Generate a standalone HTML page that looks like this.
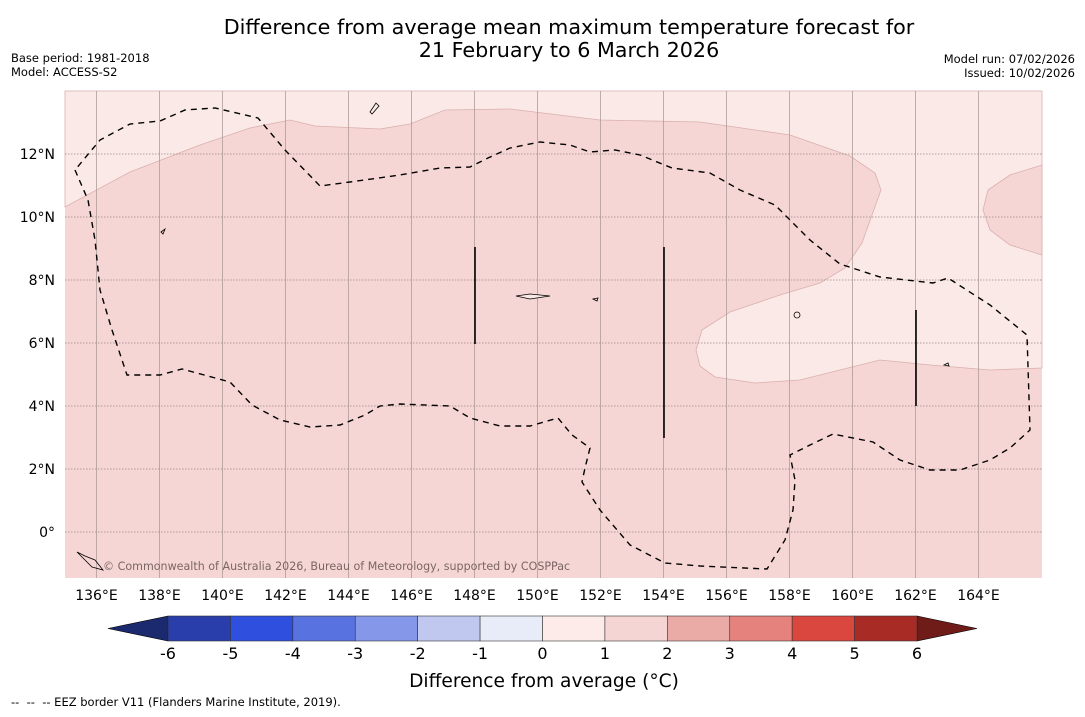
<!DOCTYPE html>
<html><head><meta charset="utf-8"><style>
body{margin:0;background:#fff;width:1085px;height:713px;overflow:hidden;font-family:"DejaVu Sans","Liberation Sans",sans-serif}
</style></head><body>
<svg id="s" width="1085" height="713" xmlns="http://www.w3.org/2000/svg">
<text x="569" y="34" font-size="20.7" text-anchor="middle">Difference from average mean maximum temperature forecast for</text>
<text x="569" y="57" font-size="20.7" text-anchor="middle">21 February to 6 March 2026</text>
<text x="11" y="62" font-size="11.5">Base period: 1981-2018</text>
<text x="11" y="76" font-size="11.5">Model: ACCESS-S2</text>
<text x="1075" y="63" font-size="11.5" text-anchor="end">Model run: 07/02/2026</text>
<text x="1075" y="77" font-size="11.5" text-anchor="end">Issued: 10/02/2026</text>
<g id="map">
<rect x="65" y="91" width="977" height="487" fill="#f5d6d4"/>
<path d="M65,91 L1042,91 L1042,368 L990,370 L930,365 L880,360 L840,370 L800,380 L755,383 L715,377 L700,366 L696,350 L702,330 L730,312 L780,295 L820,283 L845,268 L862,243 L872,215 L881,190 L875,173 L850,156 L790,135 L700,122 L600,120 L510,109 L445,110 L410,124 L380,129 L315,126 L290,120 L250,128 L200,145 L130,172 L65,207 Z" fill="#fbe9e7" stroke="#d9b0ad" stroke-width="0.8"/>
<path d="M1042,165 L1010,175 L988,190 L983,210 L990,230 L1010,245 L1042,255 Z" fill="#f5d6d4" stroke="#d9b0ad" stroke-width="0.8"/>
<g id="grid"></g>
<path d="M75,170 L88,200 L95,240 L100,290 L112,330 L127,375 L160,375 L182,369 L230,382 L252,405 L280,420 L310,427 L340,425 L365,415 L380,406 L400,404 L450,406 L470,418 L500,426 L530,426 L558,418 L572,435 L590,448 L585,468 L582,482 L600,510 L630,545 L665,563 L700,566 L767,569 L785,540 L793,510 L795,480 L790,455 L810,445 L833,434 L873,442 L900,460 L930,470 L960,470 L990,460 L1010,448 L1030,430 L1027,335 L990,305 L948,278 L933,283 L880,277 L840,264 L810,240 L775,205 L740,190 L710,173 L672,168 L640,155 L615,150 L590,152 L570,145 L540,142 L510,148 L488,158 L470,167 L440,168 L400,175 L350,182 L320,186 L285,150 L258,118 L215,108 L185,110 L160,121 L130,124 L100,140 Z" fill="none" stroke="#000" stroke-width="1.4" stroke-dasharray="6,5"/>
<line x1="475" y1="247" x2="475" y2="344" stroke="#000" stroke-width="1.6"/>
<line x1="664" y1="247" x2="664" y2="438" stroke="#000" stroke-width="1.6"/>
<line x1="916" y1="310" x2="916" y2="406" stroke="#000" stroke-width="1.6"/>
<g fill="none" stroke="#000" stroke-width="0.8">
<path d="M370,112 L376,103 L379,106 L372,114 Z"/>
<path d="M516,296 L530,294 L550,296 L530,299 Z" fill="#fbe9e7"/>
<ellipse cx="797" cy="315" rx="3" ry="3"/>
<path d="M161,232 L165,229 L163,234 Z"/>
<path d="M77,552 L85,556 L95,560 L103,570 L92,567 Z"/>
<path d="M593,299 L598,298 L597,301 Z"/>
<path d="M944,365 L948,363 L949,366 Z"/>
</g>
<text x="103" y="570" font-size="11.1" fill="#7a6664">© Commonwealth of Australia 2026, Bureau of Meteorology, supported by COSPPac</text>
</g>
<g id="ticks"></g>
<g id="cbar"></g>
<text x="544" y="687" font-size="18.6" text-anchor="middle">Difference from average (°C)</text>
<text x="11" y="706" font-size="11.5" xml:space="preserve">--  --  -- EEZ border V11 (Flanders Marine Institute, 2019).</text>
</svg>
<script>
const lonTicks=[136,138,140,142,144,146,148,150,152,154,156,158,160,162,164];
const latTicks=[0,2,4,6,8,10,12];
const levels=[-6,-5,-4,-3,-2,-1,0,1,2,3,4,5,6];
const levelColors=["#2a3eab","#2f4fdf","#5873e0","#8597e8","#c0c8f0","#e8ecf8","#fcebe9","#f5d5d3","#eaaba6","#e5827d","#d9473f","#a92b26"];
const NS="http://www.w3.org/2000/svg";
function X(lon){return 65+(lon-135)*31.5;}
function Y(lat){return 91+(14-lat)*31.5;}
function mk(t,a,p){const e=document.createElementNS(NS,t);for(const k in a)e.setAttribute(k,a[k]);p.appendChild(e);return e;}
const grid=document.getElementById('grid'),ticks=document.getElementById('ticks'),cb=document.getElementById('cbar');
lonTicks.forEach(l=>{
 const g=mk('line',{x1:X(l),x2:X(l),y1:91,y2:578,stroke:'#b09c9a','stroke-width':0.8},grid);
 
 
 const t=mk('text',{x:X(l),y:600,'font-size':14,'text-anchor':'middle'},ticks);t.textContent=l+'°E';
 
 
});
latTicks.forEach(l=>{
 const g=mk('line',{x1:65,x2:1042,y1:Y(l),y2:Y(l),stroke:'#9a8886','stroke-width':0.8,'stroke-dasharray':'1.5,1.5'},grid);
 
 
 const t=mk('text',{x:55,y:Y(l)+5,'font-size':14,'text-anchor':'end'},ticks);t.textContent=l===0?'0°':l+'°N';
 
 
});
const cx0=168,cx1=917,cy=616,ch=25;
function CX(v){return cx0+(v-levels[0])/(levels[levels.length-1]-levels[0])*(cx1-cx0);}
let p=mk('polygon',{points:`${cx0},${cy} 108,${cy+ch/2} ${cx0},${cy+ch}`,fill:'#1b2a6e',stroke:'#000','stroke-width':0.6},cb);


p=mk('polygon',{points:`${cx1},${cy} 977,${cy+ch/2} ${cx1},${cy+ch}`,fill:'#6f1c18',stroke:'#000','stroke-width':0.6},cb);


levelColors.forEach((c,i)=>{
 const r=mk('rect',{x:CX(levels[i]),y:cy,width:CX(levels[i+1])-CX(levels[i]),height:ch,fill:c,stroke:'#333','stroke-width':0.6},cb);
 
 
});
levels.forEach(v=>{
 const t=mk('text',{x:CX(v),y:659,'font-size':16,'text-anchor':'middle'},cb);t.textContent=v;
 
 
});
</script>
</body></html>
